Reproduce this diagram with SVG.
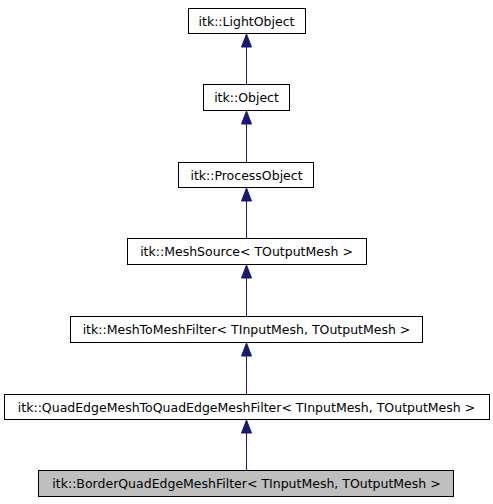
<svg xmlns="http://www.w3.org/2000/svg" width="493" height="504" viewBox="0 0 493 504">
<defs>
<style>
.box{fill:#ffffff;stroke:#000000;stroke-width:1}
.cur{fill:#bfbfbf;stroke:#000000;stroke-width:1}
.lbl{font-family:"DejaVu Sans",sans-serif;font-size:12.5px;fill:#000000;text-anchor:middle}
.edge{stroke:#191970;stroke-width:1;fill:none}
.head{fill:#191970;stroke:#191970;stroke-width:1}
</style>
</defs>
<rect width="493" height="504" fill="#ffffff"/>
<g id="edges">
<path class="edge" d="M246.5,84 V46"/>
<polygon class="head" points="246.5,34 251.5,47 241.5,47"/>
<path class="edge" d="M246.5,162 V123"/>
<polygon class="head" points="246.5,111 251.5,124 241.5,124"/>
<path class="edge" d="M246.5,238.5 V200"/>
<polygon class="head" points="246.5,188 251.5,201 241.5,201"/>
<path class="edge" d="M246.5,316 V277"/>
<polygon class="head" points="246.5,265 251.5,278 241.5,278"/>
<path class="edge" d="M246.5,394 V355"/>
<polygon class="head" points="246.5,343 251.5,356 241.5,356"/>
<path class="edge" d="M246.5,470 V432"/>
<polygon class="head" points="246.5,420 251.5,433 241.5,433"/>
</g>
<g id="LightObject">
<rect class="box" x="188.5" y="8.5" width="117" height="25"/>
<text class="lbl" x="246.5" y="25.5">itk::LightObject</text>
</g>
<g id="Object">
<rect class="box" x="203.5" y="84.5" width="86" height="26"/>
<text class="lbl" x="246.5" y="102">itk::Object</text>
</g>
<g id="ProcessObject">
<rect class="box" x="178.5" y="162.5" width="135" height="25"/>
<text class="lbl" x="246.5" y="179.5">itk::ProcessObject</text>
</g>
<g id="MeshSource">
<rect class="box" x="127.5" y="238.5" width="239" height="26"/>
<text class="lbl" x="246.5" y="256">itk::MeshSource&lt; TOutputMesh &gt;</text>
</g>
<g id="MeshToMeshFilter">
<rect class="box" x="70.5" y="316.5" width="352" height="26"/>
<text class="lbl" x="246.5" y="334">itk::MeshToMeshFilter&lt; TInputMesh, TOutputMesh &gt;</text>
</g>
<g id="QuadEdgeMeshToQuadEdgeMeshFilter">
<rect class="box" x="4.5" y="394.5" width="485" height="25"/>
<text class="lbl" x="246.5" y="411.5">itk::QuadEdgeMeshToQuadEdgeMeshFilter&lt; TInputMesh, TOutputMesh &gt;</text>
</g>
<g id="BorderQuadEdgeMeshFilter">
<rect class="cur" x="38.5" y="470.5" width="415" height="26"/>
<text class="lbl" x="246.5" y="488">itk::BorderQuadEdgeMeshFilter&lt; TInputMesh, TOutputMesh &gt;</text>
</g>
</svg>
